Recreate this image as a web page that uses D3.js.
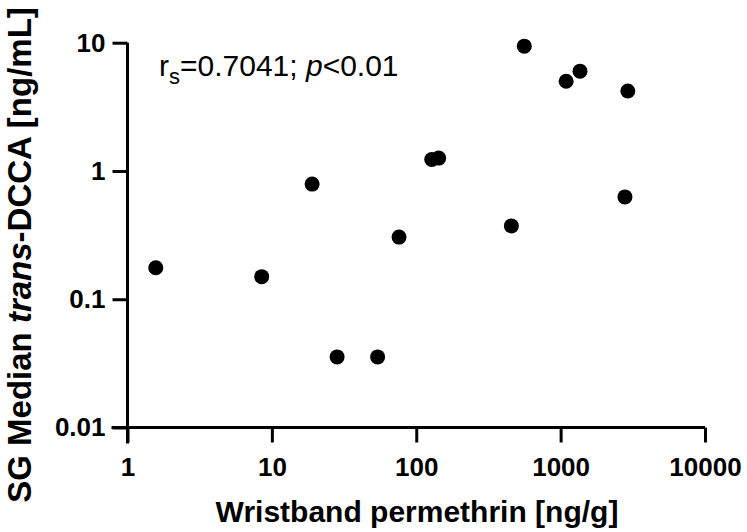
<!DOCTYPE html>
<html>
<head>
<meta charset="utf-8">
<script src="https://cdn.jsdelivr.net/npm/d3@7"></script>
<style>
  body { margin: 0; background: #fff; }
  text { font-family: "Liberation Sans", Arial, Helvetica, sans-serif; }
</style>
</head>
<body>
<svg id="chart" width="747" height="532"></svg>
<script>
// Wristband permethrin vs SG median trans-DCCA

const permethrin = [1.57, 8.5, 19, 28.3, 54, 76, 128, 143, 456, 560, 1092, 1362, 2790, 2920];
const dcca = [0.176, 0.150, 0.79, 0.0355, 0.0355, 0.305, 1.23, 1.26, 0.373, 9.4, 5.0, 6.0, 0.628, 4.2];

const xTicks = [1, 10, 100, 1000, 10000];
const yTicks = [0.01, 0.1, 1, 10];

const svg = d3.select('#chart');

const x = d3.scaleLog()
    .domain([1, 10000])
    .range([127.5, 705]);

const y = d3.scaleLog()
    .domain([0.01, 10])
    .range([427.5, 42.7]);

// axes
const xAxis = svg.append('g')
    .attr('transform', `translate(0,${y(0.01)})`)
    .call(d3.axisBottom(x)
        .tickValues(xTicks)
        .tickFormat(d3.format('d'))
        .tickSize(15)
        .tickSizeOuter(0)
        .tickPadding(15));

const yAxis = svg.append('g')
    .attr('transform', `translate(${x(1)},0)`)
    .call(d3.axisLeft(y)
        .tickValues(yTicks)
        .tickFormat(d => d >= 1 ? d3.format('d')(d) : d3.format('')(d))
        .tickSize(15)
        .tickSizeOuter(0)
        .tickPadding(7));

[xAxis, yAxis].forEach(a => {
    a.selectAll('path').attr('stroke', '#000').attr('stroke-width', 3);
    a.selectAll('line').attr('stroke', '#000').attr('stroke-width', 3);
    a.selectAll('text')
        .attr('fill', '#000')
        .style('font-size', '26px')
        .style('font-weight', 'bold');
});
// let the axis lines cross like the original
xAxis.select('path').attr('d', `M${x(1) - 16},0H${x(10000)}`);
yAxis.select('path').attr('d', `M0,${y(10)}V${y(0.01) + 16}`);

// points
svg.append('g')
    .selectAll('circle')
    .data(permethrin.map((v, i) => ({ x: v, y: dcca[i] })))
    .join('circle')
    .attr('cx', d => x(d.x))
    .attr('cy', d => y(d.y))
    .attr('r', 7.5)
    .attr('fill', '#000');

// axis titles
svg.append('text')
    .attr('x', 417)
    .attr('y', 522)
    .attr('text-anchor', 'middle')
    .style('font-size', '30px')
    .style('font-weight', 'bold')
    .text('Wristband permethrin [ng/g]');

const yTitle = svg.append('text')
    .attr('transform', `translate(31,${255}) rotate(-90)`)
    .attr('text-anchor', 'middle')
    .style('font-size', '33px')
    .style('font-weight', 'bold');
yTitle.append('tspan').text('SG Median ');
yTitle.append('tspan').style('font-style', 'italic').text('trans');
yTitle.append('tspan').text('-DCCA [ng/mL]');

// correlation note
const note = svg.append('text')
    .attr('x', 159)
    .attr('y', 76)
    .style('font-size', '30px');
note.append('tspan').text('r');
note.append('tspan').attr('dy', 8).style('font-size', '22px').text('s');
note.append('tspan').attr('dy', -8).text('=0.7041; ');
note.append('tspan').style('font-style', 'italic').text('p');
note.append('tspan').text('<0.01');
</script>
</body>
</html>
